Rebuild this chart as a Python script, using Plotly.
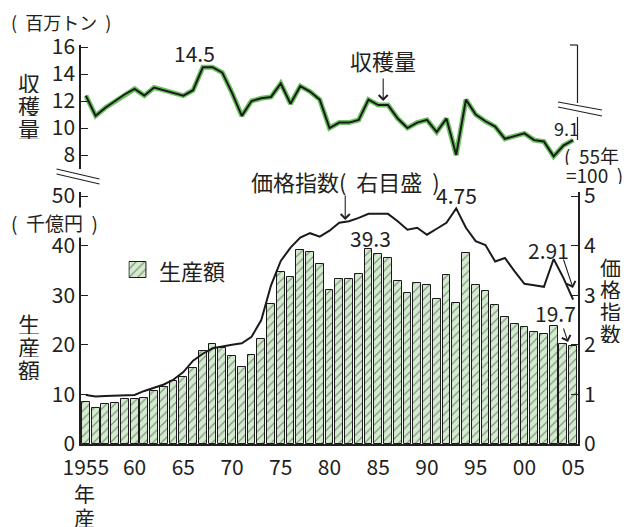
import plotly.graph_objects as go

# 1955-2005 (年産)
years = list(range(1955, 2006))

# 収穫量 (百万トン)
harvest = [
    12.4, 10.9, 11.5, 12.0, 12.5, 12.9, 12.4, 13.0, 12.8, 12.6,
    12.4, 12.8, 14.5, 14.5, 14.1, 12.6, 10.9, 12.0, 12.2, 12.3,
    13.3, 11.8, 13.1, 12.7, 12.1, 10.0, 10.4, 10.4, 10.6, 12.1,
    11.7, 11.7, 10.7, 10.0, 10.4, 10.6, 9.7, 10.7, 8.0, 12.1,
    11.0, 10.5, 10.1, 9.2, 9.4, 9.6, 9.1, 9.0, 7.9, 8.7,
    9.1,
]

# 生産額 (千億円)
production = [
    8.4, 7.2, 8.0, 8.2, 9.0, 9.0, 9.2, 10.6, 11.4, 12.7,
    13.6, 15.4, 18.8, 20.2, 19.4, 17.7, 15.6, 17.9, 21.1, 28.2,
    34.6, 33.7, 39.1, 38.7, 36.2, 31.0, 33.3, 33.3, 34.3, 39.3,
    38.4, 37.6, 32.8, 30.4, 32.4, 32.1, 29.3, 34.1, 28.5, 38.5,
    32.1, 30.8, 28.1, 25.6, 24.1, 23.5, 22.6, 22.1, 23.7, 20.1,
    19.7,
]

# 価格指数 (55年=100, 右目盛 x100)
price_index = [
    0.99, 0.96, 0.97, 0.98, 0.98, 0.99, 1.07, 1.13, 1.20, 1.30,
    1.45, 1.68, 1.82, 1.93, 1.97, 2.00, 2.03, 2.16, 2.50, 3.20,
    3.69, 3.96, 4.16, 4.25, 4.18, 4.30, 4.46, 4.49, 4.56, 4.64,
    4.64, 4.64, 4.49, 4.32, 4.36, 4.22, 4.34, 4.46, 4.75, 4.36,
    4.09, 4.01, 3.68, 3.75, 3.48, 3.23, 3.20, 3.17, 3.73, 3.35,
    2.91,
]

tick_years = [1955, 1960, 1965, 1970, 1975, 1980, 1985, 1990, 1995, 2000, 2005]
tick_text = ["1955", "60", "65", "70", "75", "80", "85", "90", "95", "00", "05"]

FONT = "Noto Sans CJK JP"
INK = "#231f20"
W, H = 631, 527
L, R, T, B = 80.5, 578.0, 45.0, 444.0  # plot area in page pixels
SP = "&nbsp;&nbsp;"


def px(x):
    return (x - L) / (R - L)


def py(y):
    return (B - y) / (B - T)


bar_marker = {
    "color": "#d4ebcf",
    "line": {"color": "#1a1a1a", "width": 1},
    "pattern": {
        "shape": "/",
        "bgcolor": "#d4ebcf",
        "fgcolor": "#2e382b",
        "size": 6,
        "solidity": 0.2,
    },
}

fig = go.Figure()

fig.add_trace(
    go.Bar(
        x=years,
        y=production,
        width=0.8,
        marker=bar_marker,
        showlegend=False,
        hoverinfo="skip",
    )
)

fig.add_trace(
    go.Scatter(
        x=years,
        y=price_index,
        yaxis="y2",
        mode="lines",
        line={"color": "#1a1a1a", "width": 2},
        showlegend=False,
        hoverinfo="skip",
    )
)

# harvest line: green halo under a black line
for color, width in [("#6cc160", 5), ("#1a1a1a", 2)]:
    fig.add_trace(
        go.Scatter(
            x=years,
            y=harvest,
            yaxis="y3",
            mode="lines",
            line={"color": color, "width": width},
            showlegend=False,
            hoverinfo="skip",
        )
    )

# legend swatch drawn as a one-bar subplot
fig.add_trace(
    go.Bar(
        x=[0],
        y=[1],
        width=1,
        xaxis="x2",
        yaxis="y4",
        marker=bar_marker,
        showlegend=False,
        hoverinfo="skip",
    )
)

tick_font = {"family": FONT, "size": 21, "color": INK}
axis_common = {
    "showgrid": False,
    "zeroline": False,
    "showline": True,
    "linecolor": INK,
    "linewidth": 1.5,
    "ticks": "inside",
    "ticklen": 7,
    "tickwidth": 1.2,
    "tickcolor": INK,
    "tickfont": tick_font,
}

fig.update_layout(
    width=W,
    height=H,
    margin={"l": L, "r": W - R, "t": T, "b": H - B, "pad": 0},
    paper_bgcolor="white",
    plot_bgcolor="white",
    font={"family": FONT, "color": INK},
    bargap=0,
    xaxis={
        "range": [1954.5, 2005.5],
        "tickvals": tick_years,
        "ticktext": tick_text,
        "showgrid": False,
        "zeroline": False,
        "showline": True,
        "linecolor": INK,
        "linewidth": 1.5,
        "ticks": "",
        "ticklabelstandoff": 4,
        "tickfont": tick_font,
    },
    yaxis={
        **axis_common,
        "domain": [0, py(192)],
        "range": [0, (B - 192) / 4.96],
        "tickvals": [0, 10, 20, 30, 40, 50],
    },
    yaxis2={
        **axis_common,
        "overlaying": "y",
        "side": "right",
        "anchor": "x",
        "range": [0, (B - 192) / 49.6],
        "tickvals": [0, 1, 2, 3, 4, 5],
    },
    yaxis3={
        **axis_common,
        "domain": [py(169), 1],
        "anchor": "x",
        "range": [16 - (169 - 47) / 13.5, 16 + 2 / 13.5],
        "tickvals": [8, 10, 12, 14, 16],
    },
    xaxis2={
        "domain": [px(128), px(147)],
        "anchor": "y4",
        "range": [-0.56, 0.56],
        "visible": False,
    },
    yaxis4={
        "domain": [py(279), py(261)],
        "anchor": "x2",
        "range": [-0.06, 1.06],
        "visible": False,
    },
)

line_style = {"color": INK, "width": 1.2}
segments = [
    # left break marks
    (56, 169, 99, 179),
    (56, 174, 99, 184),
    # right frame of harvest panel with break
    (570, 45, 577.5, 45),
    (577.5, 45, 577.5, 103),
    (577.5, 117, 577.5, 140),
    (558, 102, 602, 110),
    (558, 107, 602, 116),
]
for x0, y0, x1, y1 in segments:
    fig.add_shape(
        type="line",
        xref="paper",
        yref="paper",
        x0=px(x0),
        y0=py(y0),
        x1=px(x1),
        y1=py(y1),
        line=line_style,
    )


def label(text, x, y, size=21, xanchor="center", **kw):
    fig.add_annotation(
        text=text,
        xref="paper",
        yref="paper",
        x=px(x),
        y=py(y),
        xanchor=xanchor,
        yanchor="middle",
        showarrow=False,
        font={"family": FONT, "size": size, "color": INK},
        **kw,
    )


def arrow(x_tail, y_tail, x_tip, y_tip):
    fig.add_annotation(
        text="",
        xref="paper",
        yref="paper",
        x=px(x_tip),
        y=py(y_tip),
        ax=x_tail - x_tip,
        ay=y_tail - y_tip,
        showarrow=True,
        arrowhead=4,
        arrowsize=1.6,
        arrowwidth=1.1,
        arrowcolor=INK,
    )


label(f"({SP}百万トン{SP})", 8, 22, size=18, xanchor="left")
label(f"({SP}千億円{SP})", 8, 222, size=19, xanchor="left", bgcolor="white")

# vertical axis titles, one character per line
for ch, y in zip("収穫量", [82, 105, 128]):
    label(ch, 28, y, size=22, height=22)
for ch, y in zip("生産額", [323, 346, 369]):
    label(ch, 28, y, size=22, height=22)
for ch, y in zip("価格指数", [266, 288, 310, 332]):
    label(ch, 611, y, size=21, height=21)
for ch, y in zip("年産", [493, 517]):
    label(ch, 84, y, size=21, height=22)

label("14.5", 194, 53)
label("収穫量", 383, 60, size=22)
arrow(383, 77, 383, 101)
label("9.1", 566, 128, size=18)
label(f"({SP}55年", 562, 155, size=19, xanchor="left", height=19)
label(f"=100{SP})", 564, 174, size=19, xanchor="left", height=19)

label(f"価格指数({SP}右目盛{SP})", 345, 181, size=22)
arrow(345, 194, 345, 220)
label("4.75", 456, 195)
label("39.3", 370, 238)
label("2.91", 548, 250)
arrow(563, 258, 573, 288)
label("19.7", 555, 313)
arrow(563, 327, 568, 342)

label("生産額", 157, 270, size=22, xanchor="left")

fig.write_html(
    "out.html",
    config={"displayModeBar": False},
    post_script="document.body.style.margin='0';",
)
